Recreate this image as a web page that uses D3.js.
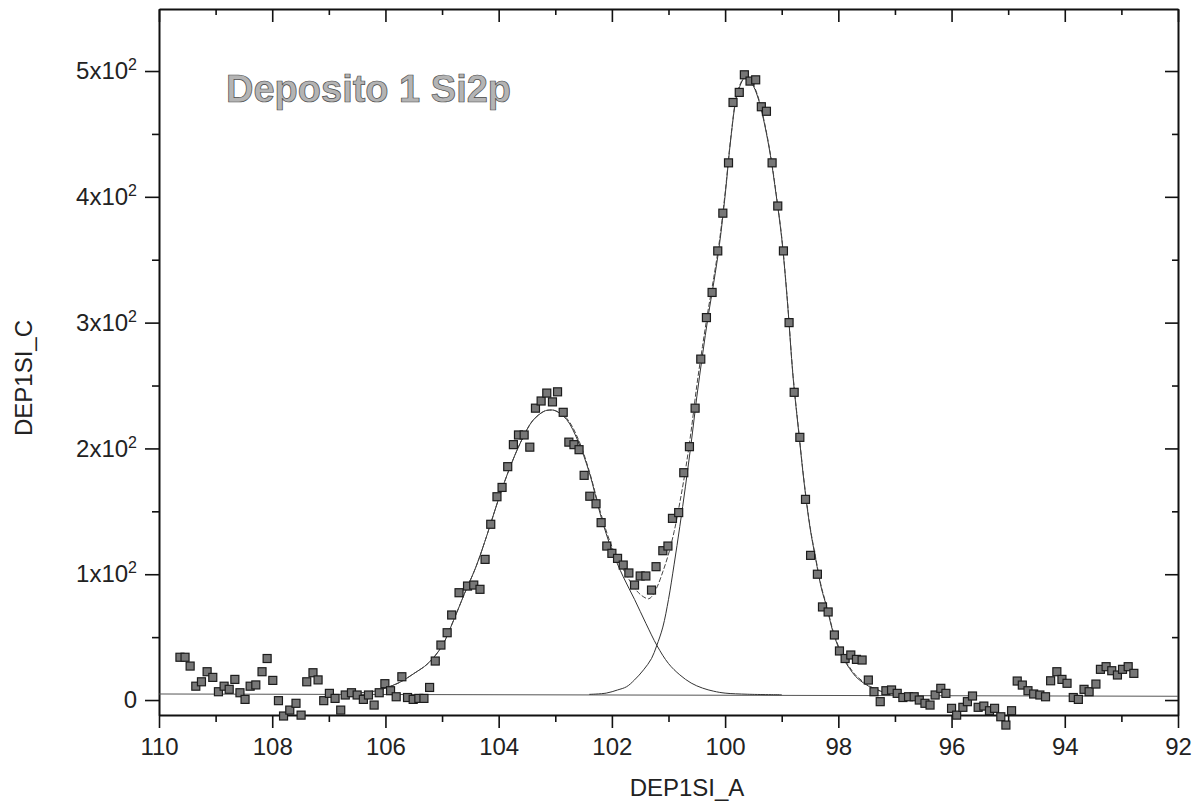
<!DOCTYPE html>
<html>
<head>
<meta charset="utf-8">
<script src="https://cdn.jsdelivr.net/npm/d3@7"></script>
<style>
  body { margin: 0; background: #fff; }
  text { font-family: "Liberation Sans", Arial, sans-serif; fill: #222; }
  .axis path, .axis line { stroke: #111; }
</style>
</head>
<body>
<div id="chart"></div>
<script>
// measured points (binding energy, counts)
const bindingE = [109.63, 109.54, 109.45, 109.35, 109.25, 109.15, 109.05, 108.95, 108.85, 108.76,
  108.66, 108.57, 108.48, 108.39, 108.29, 108.18, 108.09, 107.99, 107.89, 107.80,
  107.69, 107.58, 107.49, 107.39, 107.28, 107.19, 107.09, 106.99, 106.89, 106.79,
  106.71, 106.60, 106.50, 106.39, 106.30, 106.20, 106.11, 106.01, 105.91, 105.81,
  105.71, 105.61, 105.51, 105.41, 105.32, 105.22, 105.12, 105.02, 104.91, 104.83,
  104.70, 104.55, 104.44, 104.33, 104.24, 104.14, 104.03, 103.94, 103.84, 103.74,
  103.65, 103.55, 103.45, 103.35, 103.25, 103.15, 103.05, 102.96, 102.86, 102.76,
  102.67, 102.58, 102.49, 102.39, 102.28, 102.19, 102.09, 102.00, 101.90, 101.80,
  101.70, 101.60, 101.50, 101.40, 101.30, 101.22, 101.10, 101.01, 100.93, 100.82,
  100.73, 100.63, 100.53, 100.43, 100.33, 100.23, 100.13, 100.04, 99.94, 99.86,
  99.75, 99.66, 99.56, 99.46, 99.36, 99.27, 99.17, 99.07, 98.97, 98.87,
  98.78, 98.68, 98.58, 98.49, 98.37, 98.28, 98.18, 98.07, 97.98, 97.88,
  97.78, 97.68, 97.58, 97.47, 97.37, 97.26, 97.16, 97.06, 96.96, 96.86,
  96.76, 96.66, 96.57, 96.47, 96.38, 96.29, 96.19, 96.10, 96.00, 95.91,
  95.80, 95.72, 95.63, 95.53, 95.43, 95.33, 95.24, 95.13, 95.04, 94.94,
  94.84, 94.75, 94.65, 94.55, 94.44, 94.34, 94.25, 94.14, 94.05, 93.96,
  93.85, 93.76, 93.66, 93.57, 93.45, 93.37, 93.27, 93.17, 93.07, 92.98,
  92.88, 92.78];
const counts = [34, 34, 27, 11, 14.5, 22.5, 18, 6.6, 11, 8.5,
  16.4, 5.8, 0.5, 11, 12, 22.5, 33, 15.6, -0.5, -12.7,
  -8, -2.6, -12, 14.5, 21.7, 16, -0.5, 5.3, 1.3, -8,
  4, 5.8, 4, 0.5, 4, -4, 5.8, 13, 7.4, 2.6,
  18.5, 2, 0.5, 1.3, 1.3, 10, 31, 43.7, 53.5, 67.6,
  85.3, 90.6, 91.4, 88, 111.8, 139.7, 161.6, 169, 185.5, 203,
  210.7, 210.7, 201, 232, 237.7, 244, 237, 245, 228.7, 205,
  203, 199, 178.6, 162, 156, 141, 122.4, 116.6, 112.6, 107.3,
  101, 91.4, 98.6, 98.6, 87.4, 106, 118.7, 122.4, 144.4, 149,
  180.7, 201.4, 232, 271, 304, 324, 357, 387, 427, 475,
  483, 497, 492, 493, 471.6, 468, 427, 392.7, 357, 300,
  244.6, 208.8, 159.5, 115, 100, 74, 70, 51.7, 39, 33,
  35.8, 32.3, 31.8, 15.9, 6.6, -1.3, 7.4, 8, 5.3, 2,
  2.6, 2.6, 0, -2.6, -4, 4, 9.3, 5.3, -6.6, -12,
  -5.8, -1.3, 3.2, -5.8, -4.8, -8.5, -6.6, -13.3, -19.9, -8.5,
  15.1, 11.9, 7.4, 4.8, 4, 2.6, 15.3, 22.5, 16.4, 13.3,
  2, 0.5, 8.5, 6.6, 12.7, 24.4, 26.5, 23.3, 19.9, 24.4,
  26.5, 21.2];

// background line
const baseE = [110, 92];
const baseC = [4.8, 3.0];

// first fitted component (peak near 103.1)
const comp1E = [106.5, 106.2, 106.0, 105.75, 105.5, 105.25, 105.0, 104.8, 104.6, 104.4,
  104.2, 104.0, 103.8, 103.6, 103.4, 103.2, 103.1, 103.0, 102.8, 102.6,
  102.4, 102.2, 102.0, 101.8, 101.6, 101.4, 101.2, 101.0, 100.8, 100.6,
  100.4, 100.2, 100.0, 99.6, 99.0];
const comp1C = [5.5, 7, 9.5, 14, 21, 29, 43, 63, 85, 106,
  132, 160, 185, 206, 222, 229.5, 230.5, 230, 223, 206,
  181, 147, 119, 98, 80, 61, 43, 29, 20, 13.5,
  9.5, 7, 5.5, 4.6, 4.2];

// second fitted component (peak near 99.7)
const comp2E = [102.4, 102.1, 101.9, 101.74, 101.6, 101.44, 101.3, 101.21, 101.1, 101.0,
  100.9, 100.8, 100.7, 100.6, 100.5, 100.4, 100.3, 100.2, 100.1, 100.0,
  99.9, 99.8, 99.72, 99.65, 99.58, 99.5, 99.4, 99.3, 99.2, 99.1,
  99.0, 98.9, 98.8, 98.7, 98.6, 98.5, 98.4, 98.3, 98.2, 98.1,
  98.0, 97.9, 97.8, 97.7, 97.6, 97.5, 97.4, 97.2, 97.0, 96.7];
const comp2C = [4.5, 5.5, 8, 10.6, 16, 24, 33, 43, 58, 80,
  108, 138, 170, 204, 241, 274, 305, 332, 362, 401,
  446, 479, 490, 495, 493, 488, 476, 457, 433, 402,
  367, 317, 257, 213, 171, 137, 112, 89, 73, 55,
  42, 32, 25, 19, 15, 12, 9.5, 6.3, 4.8, 4];

// envelope (sum of components)
const envE = [106.3, 106.0, 105.75, 105.5, 105.25, 105.0, 104.8, 104.6, 104.4, 104.2,
  104.0, 103.8, 103.6, 103.4, 103.2, 103.1, 103.0, 102.8, 102.6, 102.4,
  102.2, 102.0, 101.8, 101.7, 101.6, 101.5, 101.4, 101.35, 101.3, 101.2,
  101.1, 101.0, 100.9, 100.8, 100.7, 100.6, 100.5, 100.4, 100.3, 100.2,
  100.1, 100.0, 99.9, 99.8, 99.72, 99.65, 99.58, 99.5, 99.4, 99.3,
  99.2, 99.1, 99.0, 98.9, 98.8, 98.7, 98.6, 98.5, 98.4, 98.3,
  98.2, 98.1, 98.0, 97.9, 97.8, 97.7, 97.6, 97.5, 97.4, 97.2,
  97.0, 96.7];
const envC = [6.5, 9.5, 14, 21, 29, 43, 63, 85, 106, 132,
  160, 185, 206, 222, 229.5, 230.5, 230, 224, 208, 182,
  149, 122, 104, 96, 89, 84, 81, 80.5, 82, 90,
  102, 116, 134, 157, 183, 214, 250, 281, 310, 336,
  365, 403, 447, 480, 491, 496, 494, 489, 477, 458,
  434, 403, 368, 318, 258, 214, 172, 138, 113, 90,
  74, 56, 43, 33, 26, 20, 16, 12.5, 10, 6.5,
  5, 4.2];

const xMajor = [110, 108, 106, 104, 102, 100, 98, 96, 94, 92];
const xMinor = [109, 107, 105, 103, 101, 99, 97, 95, 93];
const yMajor = [0, 100, 200, 300, 400, 500];
const yMinor = [50, 150, 250, 350, 450];
const yMant = ["0", "1x10", "2x10", "3x10", "4x10", "5x10"];

const width = 1204, height = 806;
const plotLeft = 159, plotRight = 1178, plotTop = 9, plotBottom = 715;

const svg = d3.select("#chart")
  .append("svg")
  .attr("width", width)
  .attr("height", height);

const x = d3.scaleLinear().domain([110, 92]).range([plotLeft, plotRight]);
const y = d3.scaleLinear().domain([-11.9, 549.3]).range([plotBottom, plotTop]);

// axes: left/bottom ticks outside, top/right ticks inside
function addAxis(axis, tx, ty, cls) {
  return svg.append("g")
    .attr("class", "axis " + cls)
    .attr("transform", "translate(" + tx + "," + ty + ")")
    .call(axis);
}

const gBottom = addAxis(d3.axisBottom(x).tickValues(xMajor).tickSize(13).tickSizeOuter(0)
  .tickPadding(10).tickFormat(d3.format("d")), 0, plotBottom, "x-bottom");
addAxis(d3.axisBottom(x).tickValues(xMinor).tickSize(7).tickSizeOuter(0).tickFormat(""), 0, plotBottom, "x-bottom-minor")
  .select(".domain").remove();

addAxis(d3.axisBottom(x).tickValues(xMajor).tickSize(13).tickSizeOuter(0).tickFormat(""), 0, plotTop, "x-top");
addAxis(d3.axisBottom(x).tickValues(xMinor).tickSize(6).tickSizeOuter(0).tickFormat(""), 0, plotTop, "x-top-minor")
  .select(".domain").remove();

const gLeft = addAxis(d3.axisLeft(y).tickValues(yMajor).tickSize(14).tickSizeOuter(0)
  .tickPadding(8).tickFormat(function (d, i) { return yMant[i]; }), plotLeft, 0, "y-left");
addAxis(d3.axisLeft(y).tickValues(yMinor).tickSize(7).tickSizeOuter(0).tickFormat(""), plotLeft, 0, "y-left-minor")
  .select(".domain").remove();

addAxis(d3.axisLeft(y).tickValues(yMajor).tickSize(13).tickSizeOuter(0).tickFormat(""), plotRight, 0, "y-right");
addAxis(d3.axisLeft(y).tickValues(yMinor).tickSize(6).tickSizeOuter(0).tickFormat(""), plotRight, 0, "y-right-minor")
  .select(".domain").remove();

svg.selectAll(".axis .domain").attr("stroke-width", 2).attr("stroke", "#111");
svg.selectAll(".axis .tick line").attr("stroke-width", 1.6).attr("stroke", "#111");

gBottom.selectAll(".tick text")
  .attr("font-size", 24)
  .attr("fill", "#222");

gLeft.selectAll(".tick text")
  .attr("font-size", 24)
  .attr("fill", "#222")
  .each(function (d) {
    if (d === 0) return;
    d3.select(this).append("tspan")
      .attr("font-size", 16)
      .attr("dy", -9)
      .text("2");
  });

// axis titles
svg.append("text")
  .attr("x", 687)
  .attr("y", 796)
  .attr("text-anchor", "middle")
  .attr("font-size", 24)
  .text("DEP1SI_A");

svg.append("text")
  .attr("transform", "translate(32,378) rotate(-90)")
  .attr("text-anchor", "middle")
  .attr("font-size", 24)
  .text("DEP1SI_C");

// plot title (light grey fill, dark outline)
svg.append("text")
  .attr("x", 226)
  .attr("y", 102)
  .attr("font-size", 38)
  .attr("font-weight", "bold")
  .style("fill", "#b4b4b4")
  .attr("stroke", "#4a4a4a")
  .attr("stroke-width", 0.7)
  .text("Deposito 1 Si2p");

// lines
function toPts(es, cs) {
  return es.map(function (e, i) { return [e, cs[i]]; });
}
const line = d3.line()
  .x(function (d) { return x(d[0]); })
  .y(function (d) { return y(d[1]); })
  .curve(d3.curveCatmullRom.alpha(0.5));

svg.append("path")
  .datum(toPts(baseE, baseC))
  .attr("fill", "none")
  .attr("stroke", "#555")
  .attr("stroke-width", 1)
  .attr("d", line);

svg.append("path")
  .datum(toPts(comp1E, comp1C))
  .attr("class", "line comp1")
  .attr("fill", "none")
  .attr("stroke", "#333")
  .attr("stroke-width", 1)
  .attr("d", line);

svg.append("path")
  .datum(toPts(comp2E, comp2C))
  .attr("class", "line comp2")
  .attr("fill", "none")
  .attr("stroke", "#333")
  .attr("stroke-width", 1)
  .attr("d", line);

svg.append("path")
  .datum(toPts(envE, envC))
  .attr("class", "line envelope")
  .attr("fill", "none")
  .attr("stroke", "#444")
  .attr("stroke-width", 1)
  .attr("stroke-dasharray", "5,2")
  .attr("d", line);

// data markers
const sq = 8;
svg.append("g")
  .attr("class", "points")
  .selectAll("rect")
  .data(toPts(bindingE, counts))
  .join("rect")
  .attr("x", function (d) { return x(d[0]) - sq / 2; })
  .attr("y", function (d) { return y(d[1]) - sq / 2; })
  .attr("width", sq)
  .attr("height", sq)
  .attr("fill", "#777")
  .attr("stroke", "#1c1c1c")
  .attr("stroke-width", 1.2);
</script>
</body>
</html>
